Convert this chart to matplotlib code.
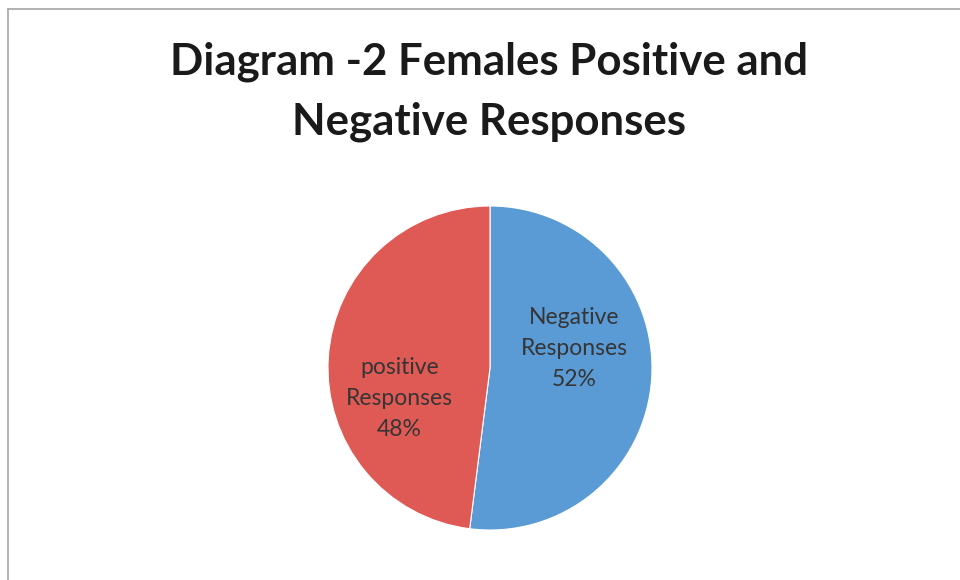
import matplotlib
matplotlib.use("Agg")
import matplotlib.pyplot as plt
from matplotlib.lines import Line2D

categories = ["Negative\nResponses", "positive\nResponses"]
shares = [52, 48]
colors = ["#5b9bd5", "#df5a55"]
title = "Diagram -2 Females Positive and\nNegative Responses"
# label anchors inside the pie, in units of the radius
label_xy = [(0.52, 0.12), (-0.56, -0.19)]

W, H = 960, 580
fig = plt.figure(figsize=(W / 100, H / 100), dpi=100)
fig.patch.set_facecolor("white")

# frame: thin grey rule along top and left edge
fig.add_artist(Line2D([8 / W, 1], [1 - 9 / H, 1 - 9 / H], color="#a6a6a6", lw=1.2))
fig.add_artist(Line2D([8 / W, 8 / W], [0, 1 - 9 / H], color="#a6a6a6", lw=1.2))

fig.text(489 / W, 1 - 92 / H, title, ha="center", va="center",
         fontsize=31.5, fontweight="bold", family=["Lato", "DejaVu Sans"],
         color="#1a1a1a", linespacing=1.6)

cx, cy, r = 490, 368, 162
ax = fig.add_axes([(cx - r) / W, (H - cy - r) / H, 2 * r / W, 2 * r / H])
labels = [f"{c}\n{v}%" for c, v in zip(categories, shares)]
wedges, texts = ax.pie(shares, colors=colors, startangle=90, counterclock=False,
                       labels=labels, labeldistance=0.55,
                       wedgeprops=dict(edgecolor="white", linewidth=0.8))
for t, xy in zip(texts, label_xy):
    t.set_position(xy)
    t.set_ha("center")
    t.set_va("center")
    t.set_fontsize(16.5)
    t.set_family(["Lato", "DejaVu Sans"])
    t.set_color("#353535")
    t.set_linespacing(1.6)
ax.set_xlim(-1, 1)
ax.set_ylim(-1, 1)
ax.set_aspect("equal")
ax.axis("off")

fig.savefig("out.png", dpi=100, facecolor="white")
